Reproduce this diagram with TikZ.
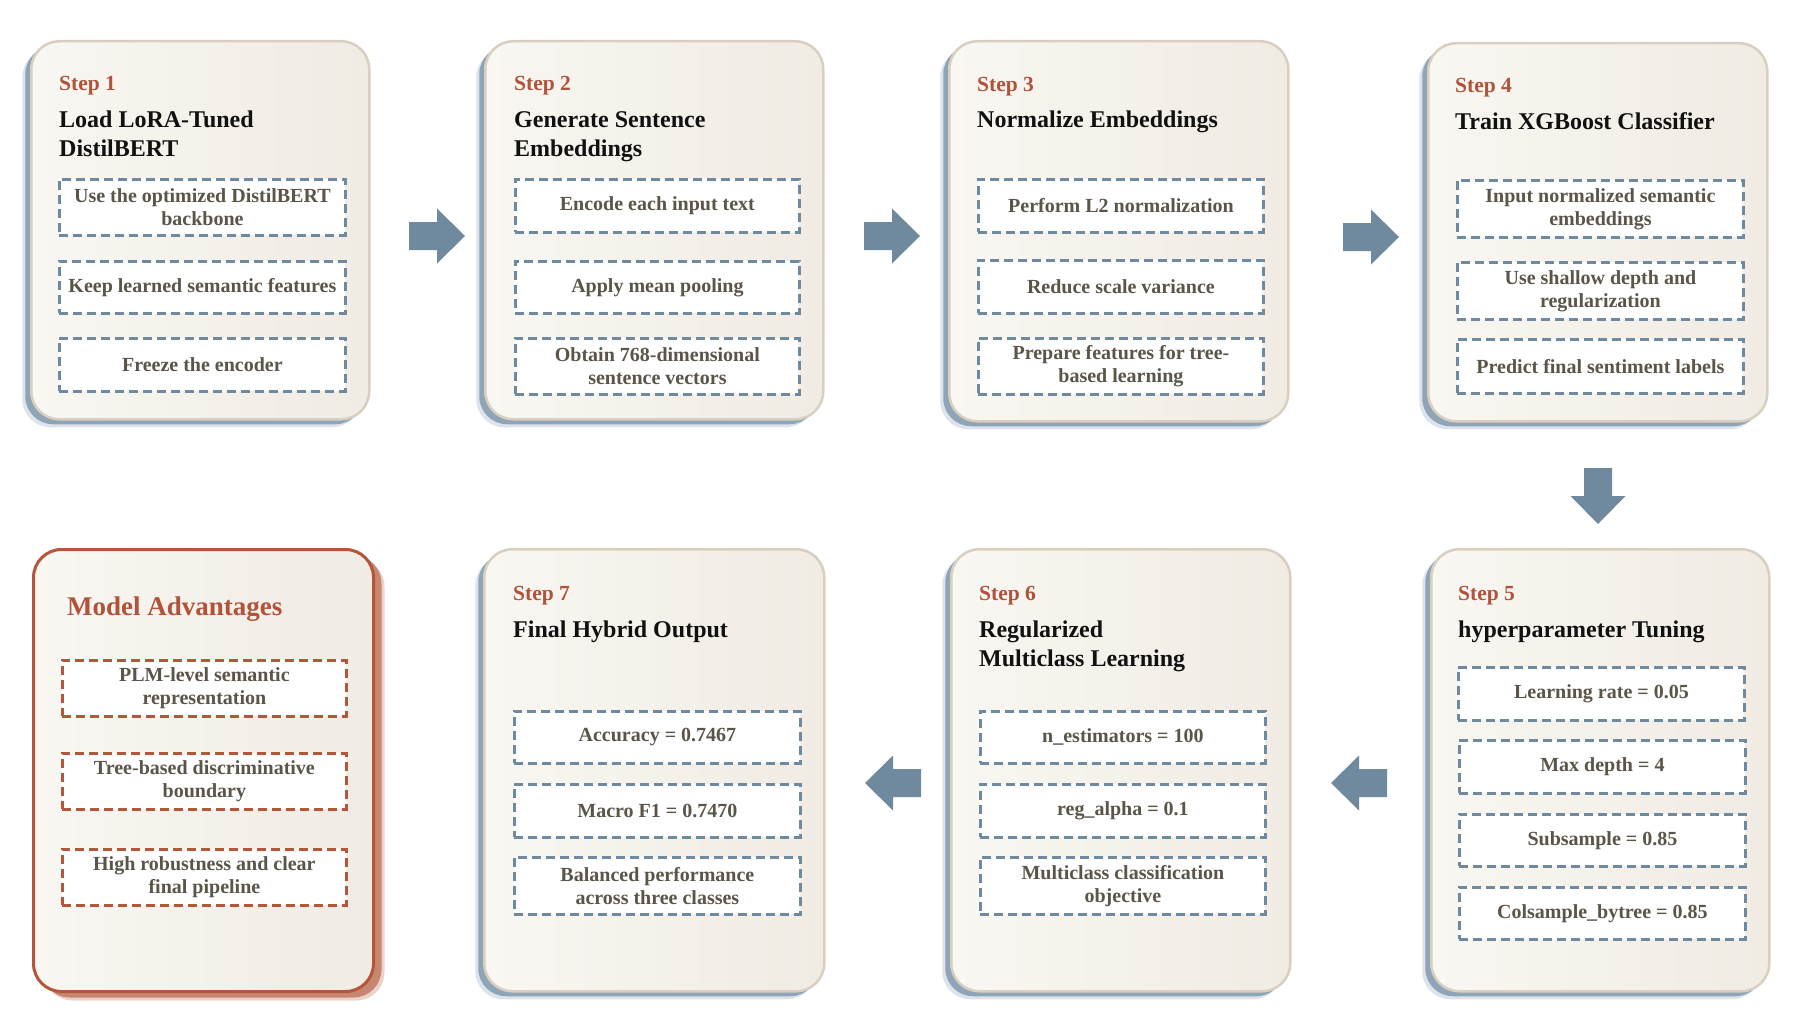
\documentclass[tikz,border=0pt]{standalone}
\usepackage{fontspec}
\setmainfont{Liberation Serif}
\usetikzlibrary{shadows}
\definecolor{cardA}{HTML}{F9F7F2}
\definecolor{cardB}{HTML}{F0EBE3}
\definecolor{cardline}{HTML}{D8CFC0}
\definecolor{shblue}{HTML}{8EA4B7}
\definecolor{shhalo}{HTML}{DCE3EA}
\definecolor{dashblue}{HTML}{6E8AA0}
\definecolor{arrowc}{HTML}{6F8A9E}
\definecolor{subtxt}{HTML}{5B5449}
\definecolor{rust}{HTML}{B1533A}
\definecolor{advline}{HTML}{B3563B}
\definecolor{advsh}{HTML}{C6866F}
\definecolor{advhalo}{HTML}{EBD3C9}
\definecolor{ttlc}{HTML}{111111}
\begin{document}
\begin{tikzpicture}[x=1pt,y=-1pt,
  card/.style={draw=cardline, line width=2.5pt, rounded corners=28pt,
    left color=cardA, right color=cardB, anchor=north west, inner sep=0pt,
    general shadow={fill=shhalo, shadow xshift=-9pt, shadow yshift=-8pt},
    general shadow={fill=shblue, shadow xshift=-6pt, shadow yshift=-5pt}},
  advcard/.style={draw=advline, line width=3pt, rounded corners=28pt,
    left color=cardA, right color=cardB, anchor=north west, inner sep=0pt,
    general shadow={fill=advhalo, shadow xshift=11pt, shadow yshift=-9pt},
    general shadow={fill=advsh, shadow xshift=8pt, shadow yshift=-6pt}},
  steplbl/.style={anchor=base west, inner sep=0pt, text=rust,
    font=\fontsize{21.5}{25}\selectfont\bfseries},
  ttl/.style={anchor=base west, inner sep=0pt, text=ttlc,
    font=\fontsize{24}{28}\selectfont\bfseries},
  advttl/.style={anchor=base west, inner sep=0pt, text=rust,
    font=\fontsize{27}{31}\selectfont\bfseries},
  subbox/.style={draw=dashblue, fill=white, line width=2.8pt,
    dash pattern=on 9pt off 5pt, anchor=north west, inner sep=0pt,
    align=center, text=subtxt, minimum width=285pt,
    font=\fontsize{20}{23}\selectfont\bfseries},
  advbox/.style={subbox, draw=advline},
  blockarr/.pic={\fill[arrowc] (-28,-14) -- (0,-14) -- (0,-27.5) -- (28,0)
    -- (0,27.5) -- (0,14) -- (-28,14) -- cycle;}
]
\useasboundingbox (0,0) rectangle (1806,1030);

% ---------- cards ----------
\node[card, minimum width=338pt, minimum height=378pt] (c1) at (30,40) {};
\node[card, minimum width=338pt, minimum height=378pt] (c2) at (484,40) {};
\node[card, minimum width=339pt, minimum height=380pt] (c3) at (948,40) {};
\node[card, minimum width=339pt, minimum height=378pt] (c4) at (1427,42) {};
\node[advcard, minimum width=340pt, minimum height=442pt] (adv) at (32,548) {};
\node[card, minimum width=340pt, minimum height=442pt] (c7) at (483,548) {};
\node[card, minimum width=339pt, minimum height=442pt] (c6) at (950,548) {};
\node[card, minimum width=338pt, minimum height=442pt] (c5) at (1430,548) {};

% ---------- arrows ----------
\pic (a12) at (437,236) {blockarr};
\pic (a23) at (892,236) {blockarr};
\pic (a34) at (1371,237) {blockarr};
\pic[rotate=-90] (a45) at (1598,496) {blockarr};
\pic[rotate=180] (a56) at (1359,783) {blockarr};
\pic[rotate=180] (a67) at (893,783) {blockarr};

% ---------- Step 1 ----------
\node[steplbl] (s1) at (59,91) {Step 1};
\node[ttl] (t1a) at (59,128) {Load LoRA-Tuned};
\node[ttl] (t1b) at (59,157) {DistilBERT};
\node[subbox, minimum width=286pt, minimum height=56pt] (b11) at (58,178) {Use the optimized DistilBERT\\backbone};
\node[subbox, minimum width=286pt, minimum height=52pt] (b12) at (58,260) {Keep learned semantic features};
\node[subbox, minimum width=286pt, minimum height=53pt] (b13) at (58,337) {Freeze the encoder};

% ---------- Step 2 ----------
\node[steplbl] (s2) at (514,91) {Step 2};
\node[ttl] (t2a) at (514,128) {Generate Sentence};
\node[ttl] (t2b) at (514,157) {Embeddings};
\node[subbox, minimum width=284pt, minimum height=53pt] (b21) at (514,178) {Encode each input text};
\node[subbox, minimum width=284pt, minimum height=52pt] (b22) at (514,260) {Apply mean pooling};
\node[subbox, minimum width=284pt, minimum height=56pt] (b23) at (514,337) {Obtain 768-dimensional\\sentence vectors};

% ---------- Step 3 ----------
\node[steplbl] (s3) at (977,92) {Step 3};
\node[ttl] (t3a) at (977,128) {Normalize Embeddings};
\node[subbox, minimum width=285pt, minimum height=53pt] (b31) at (977,178) {Perform L2 normalization};
\node[subbox, minimum width=285pt, minimum height=53pt] (b32) at (977,259) {Reduce scale variance};
\node[subbox, minimum width=285pt, minimum height=56pt] (b33) at (977,337) {Prepare features for tree-\\based learning};

% ---------- Step 4 ----------
\node[steplbl] (s4) at (1455,93) {Step 4};
\node[ttl] (t4a) at (1455,130) {Train XGBoost Classifier};
\node[subbox, minimum width=286pt, minimum height=57pt] (b41) at (1456,179) {Input normalized semantic\\embeddings};
\node[subbox, minimum width=286pt, minimum height=57pt] (b42) at (1456,261) {Use shallow depth and\\regularization};
\node[subbox, minimum width=286pt, minimum height=54pt] (b43) at (1456,338) {Predict final sentiment labels};

% ---------- Step 5 ----------
\node[steplbl] (s5) at (1458,600) {Step 5};
\node[ttl] (t5a) at (1458,637) {hyperparameter Tuning};
\node[subbox, minimum width=286pt, minimum height=53pt] (b51) at (1457,666) {Learning rate = 0.05};
\node[subbox, minimum width=286pt, minimum height=53pt] (b52) at (1458,739) {Max depth = 4};
\node[subbox, minimum width=286pt, minimum height=52pt] (b53) at (1458,813) {Subsample = 0.85};
\node[subbox, minimum width=286pt, minimum height=52pt] (b54) at (1458,886) {Colsample\_bytree = 0.85};

% ---------- Step 6 ----------
\node[steplbl] (s6) at (979,600) {Step 6};
\node[ttl] (t6a) at (979,637) {Regularized};
\node[ttl] (t6b) at (979,666) {Multiclass Learning};
\node[subbox, minimum width=285pt, minimum height=52pt] (b61) at (979,710) {n\_estimators = 100};
\node[subbox, minimum width=285pt, minimum height=53pt] (b62) at (979,783) {reg\_alpha = 0.1};
\node[subbox, minimum width=285pt, minimum height=57pt] (b63) at (979,856) {Multiclass classification\\objective};

% ---------- Step 7 ----------
\node[steplbl] (s7) at (513,600) {Step 7};
\node[ttl] (t7a) at (513,637) {Final Hybrid Output};
\node[subbox, minimum width=286pt, minimum height=52pt] (b71) at (513,710) {Accuracy = 0.7467};
\node[subbox, minimum width=286pt, minimum height=53pt] (b72) at (513,783) {Macro F1 = 0.7470};
\node[subbox, minimum width=286pt, minimum height=57pt] (b73) at (513,856) {Balanced performance\\across three classes};

% ---------- Model Advantages ----------
\node[advttl] (advt) at (67,615) {Model Advantages};
\node[advbox, minimum width=284pt, minimum height=56pt] (v1) at (61,659) {PLM-level semantic\\representation};
\node[advbox, minimum width=284pt, minimum height=56pt] (v2) at (61,752) {Tree-based discriminative\\boundary};
\node[advbox, minimum width=284pt, minimum height=56pt] (v3) at (61,848) {High robustness and clear\\final pipeline};
\end{tikzpicture}
\end{document}
